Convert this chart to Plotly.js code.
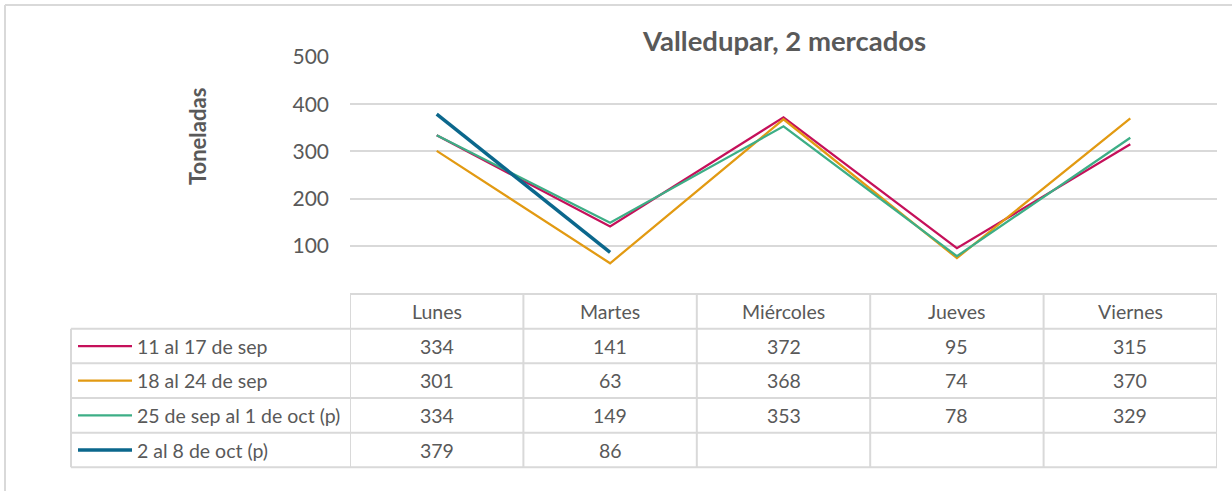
<!DOCTYPE html>
<html>
<head>
<meta charset="utf-8">
<script src="https://cdn.plot.ly/plotly-3.0.1.min.js"></script>
<style>
  html, body { margin: 0; padding: 0; background: #ffffff; }
  #chart { width: 1232px; height: 491px; }
</style>
</head>
<body>
<div id="chart"></div>
<script>
// ---- Data ----
const categories = ['Lunes', 'Martes', 'Miércoles', 'Jueves', 'Viernes'];
const seriesNames = ['11 al 17 de sep', '18 al 24 de sep', '25 de sep al 1 de oct (p)', '2 al 8 de oct (p)'];
const sep11 = [334, 141, 372, 95, 315];
const sep18 = [301, 63, 368, 74, 370];
const sep25 = [334, 149, 353, 78, 329];
const oct2 = [379, 86, null, null, null];
const yTicks = [100, 200, 300, 400, 500];

const seriesValues = [sep11, sep18, sep25, oct2];
const colors = ['#C5105A', '#E29A12', '#3DAE86', '#0B678C'];
const widths = [2.25, 2.25, 2.25, 3.5];

// ---- Geometry (pixels) ----
const W = 1232, H = 491;
const L = 350, R = 1217, T = 57, B = 293;
const px = x => (x - L) / (R - L);
const py = y => (B - y) / (B - T);

const txt = '#595959';
const gridC = '#D9D9D9';
const FONT = 'Lato, "Open Sans", sans-serif';
const tableSize = 19.5;

const traces = seriesValues.map((vals, i) => ({
  type: 'scatter',
  mode: 'lines',
  x: categories,
  y: vals,
  name: seriesNames[i],
  line: { color: colors[i], width: widths[i] },
  connectgaps: false,
  hoverinfo: 'x+y+name'
}));

// table rows (pixel y edges)
const rowEdges = [294, 328.7, 363.3, 398, 432.7, 467.3];
const legendLeft = 71;

const shapes = [];
const annotations = [];

// outer border (left and top)
shapes.push({ type: 'line', xref: 'paper', yref: 'paper', x0: px(5), x1: px(W + 5), y0: py(5), y1: py(5), line: { color: gridC, width: 2 } });
shapes.push({ type: 'line', xref: 'paper', yref: 'paper', x0: px(5), x1: px(5), y0: py(5), y1: py(H + 5), line: { color: gridC, width: 2 } });

// horizontal table lines
rowEdges.forEach((y, i) => {
  shapes.push({
    type: 'line', xref: 'paper', yref: 'paper',
    x0: i === 0 ? 0 : px(legendLeft), x1: 1,
    y0: py(y), y1: py(y),
    line: { color: gridC, width: 2 }
  });
});
// vertical table lines in category coordinates
for (let k = 0; k <= categories.length; k++) {
  shapes.push({
    type: 'line', xref: 'x', yref: 'paper',
    x0: k - 0.5, x1: k - 0.5,
    y0: py(rowEdges[0]), y1: py(rowEdges[rowEdges.length - 1]),
    line: { color: gridC, width: 2 }
  });
}
// legend column left edge
shapes.push({
  type: 'line', xref: 'paper', yref: 'paper',
  x0: px(legendLeft), x1: px(legendLeft),
  y0: py(rowEdges[1]), y1: py(rowEdges[rowEdges.length - 1]),
  line: { color: gridC, width: 2 }
});

// header labels
categories.forEach((c, k) => {
  annotations.push({
    xref: 'x', yref: 'paper', x: k, y: py((rowEdges[0] + rowEdges[1]) / 2),
    text: c, showarrow: false, xanchor: 'center', yanchor: 'middle',
    font: { family: FONT, size: tableSize, color: txt }
  });
});

// series rows
seriesValues.forEach((vals, i) => {
  const yc = (rowEdges[i + 1] + rowEdges[i + 2]) / 2;
  // legend swatch
  shapes.push({
    type: 'line', xref: 'paper', yref: 'paper',
    x0: px(78), x1: px(132), y0: py(yc), y1: py(yc),
    line: { color: colors[i], width: widths[i] }
  });
  annotations.push({
    xref: 'paper', yref: 'paper', x: px(135), y: py(yc),
    text: seriesNames[i], showarrow: false, xanchor: 'left', yanchor: 'middle',
    font: { family: FONT, size: tableSize, color: txt }
  });
  vals.forEach((v, k) => {
    if (v === null) return;
    annotations.push({
      xref: 'x', yref: 'paper', x: k, y: py(yc),
      text: String(v), showarrow: false, xanchor: 'center', yanchor: 'middle',
      font: { family: FONT, size: tableSize, color: txt }
    });
  });
});

// chart title
annotations.push({
  xref: 'paper', yref: 'paper', x: 0.5, y: py(41),
  text: '<b>Valledupar, 2 mercados</b>', showarrow: false, xanchor: 'center', yanchor: 'middle',
  font: { family: FONT, size: 27.5, color: txt }
});
// y axis title
annotations.push({
  xref: 'paper', yref: 'paper', x: px(197), y: py(137),
  text: '<b>Toneladas</b>', showarrow: false, xanchor: 'center', yanchor: 'middle', textangle: -90,
  font: { family: FONT, size: 22, color: txt }
});

const layout = {
  width: W, height: H,
  margin: { l: L, r: W - R, t: T, b: H - B, pad: 0 },
  paper_bgcolor: '#ffffff',
  plot_bgcolor: '#ffffff',
  showlegend: false,
  font: { family: FONT, color: txt },
  xaxis: {
    type: 'category',
    range: [-0.5, categories.length - 0.5],
    showticklabels: false,
    showgrid: false,
    zeroline: false,
    showline: false,
    ticks: '',
    fixedrange: true
  },
  yaxis: {
    range: [0, 500],
    tickvals: yTicks,
    ticktext: yTicks.map(String),
    showgrid: true,
    gridcolor: gridC,
    gridwidth: 2,
    zeroline: false,
    showline: false,
    ticks: '',
    ticklabelstandoff: 20,
    tickfont: { family: FONT, size: 21, color: txt },
    fixedrange: true
  },
  shapes: shapes,
  annotations: annotations
};

Plotly.newPlot('chart', traces, layout, { displayModeBar: false, staticPlot: true });
</script>
</body>
</html>
